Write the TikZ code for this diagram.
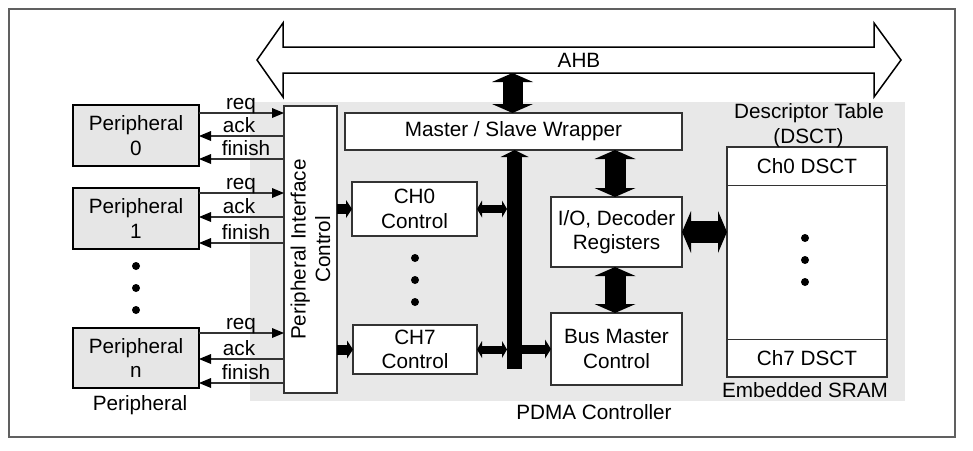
\documentclass[tikz,border=0pt]{standalone}
\usepackage{fontspec}
\setmainfont{Liberation Sans}
\usetikzlibrary{arrows.meta}
\definecolor{bggray}{HTML}{E8E8E8}
\definecolor{pergray}{HTML}{E6E6E6}
\definecolor{framec}{HTML}{606060}
\definecolor{edgec}{HTML}{333333}
\newcommand\dfont{\fontsize{20.7pt}{24.5pt}\selectfont}
\tikzset{
  blk/.style={draw=edgec, line width=1.3pt, fill=white, inner sep=0pt, outer sep=0pt, align=center, font=\dfont},
  perbox/.style={draw=black, line width=2pt, fill=pergray, inner sep=0pt, outer sep=0pt, align=center, font=\dfont, minimum width=126pt},
  lab/.style={inner sep=0pt, font=\dfont, align=center},
  dotc/.style={circle, fill=black, inner sep=0pt, minimum size=8pt},
  sig/.style={draw=black!80, line width=1.1pt, arrows={-Triangle[width=10pt,length=12pt,line width=0pt,color=black]}},
  fatdbl/.style n args={3}{line width=#1, arrows={Triangle[width=#2,length=#3,line width=0pt]-Triangle[width=#2,length=#3,line width=0pt]}},
  fatone/.style n args={3}{line width=#1, arrows={-Triangle[width=#2,length=#3,line width=0pt]}}
}
\begin{document}
\begin{tikzpicture}[x=1pt,y=-1pt]
\useasboundingbox (0,0) rectangle (973,450);
% frame and background
\draw[framec, line width=1.2pt] (9,9) rectangle (955,437);
\fill[bggray] (250,102) rectangle (905,401);
% AHB bus
\draw[black, line width=1.5pt, fill=white, line join=miter]
  (257,60) -- (283,23) -- (283,47) -- (874,47) -- (874,23) -- (901,60)
  -- (874,97) -- (874,73) -- (283,73) -- (283,97) -- cycle;
\node[lab] (ahb) at (579,60) {AHB};
\coordinate (ahbs) at (512.5,73);
% peripherals
\node[perbox, minimum height=61pt] (p0) at (136,135.5) {Peripheral\\0};
\node[perbox, minimum height=61pt] (p1) at (136,218.5) {Peripheral\\1};
\node[perbox, minimum height=60pt] (pn) at (136,358) {Peripheral\\n};
\node[lab] (plab) at (140,405) {Peripheral};
\node[dotc] (pd1) at (136,266) {};
\node[dotc] (pd2) at (136,288) {};
\node[dotc] (pd3) at (136,310) {};
% peripheral interface control
\node[blk, minimum width=53pt, minimum height=287pt] (pic) at (310.5,249.5) {};
\node[lab, rotate=90] (pict) at (pic.center) {Peripheral Interface\\Control};
% signals
\draw[sig] (p0.east |- 0,113) -- (pic.west |- 0,113);
\draw[sig] (pic.west |- 0,136) -- (p0.east |- 0,136);
\draw[sig] (pic.west |- 0,159) -- (p0.east |- 0,159);
\draw[sig] (p1.east |- 0,193) -- (pic.west |- 0,193);
\draw[sig] (pic.west |- 0,217) -- (p1.east |- 0,217);
\draw[sig] (pic.west |- 0,243) -- (p1.east |- 0,243);
\draw[sig] (pn.east |- 0,333) -- (pic.west |- 0,333);
\draw[sig] (pic.west |- 0,359) -- (pn.east |- 0,359);
\draw[sig] (pic.west |- 0,383) -- (pn.east |- 0,383);
\node[lab, anchor=base] (r0) at (241,109) {req};
\node[lab, anchor=base] (a0) at (239,132) {ack};
\node[lab, anchor=base] (f0) at (246,155) {finish};
\node[lab, anchor=base] (r1) at (241,189) {req};
\node[lab, anchor=base] (a1) at (239,213) {ack};
\node[lab, anchor=base] (f1) at (246,239) {finish};
\node[lab, anchor=base] (rn) at (241,329) {req};
\node[lab, anchor=base] (an) at (239,355) {ack};
\node[lab, anchor=base] (fn) at (246,379) {finish};
% controller blocks
\node[blk, minimum width=337pt, minimum height=37pt] (msw) at (513.5,131.5) {Master / Slave Wrapper};
\node[blk, minimum width=125pt, minimum height=54pt] (ch0) at (414.5,209) {CH0\\Control};
\node[blk, minimum width=124pt, minimum height=49pt] (ch7) at (415,349.5) {CH7\\Control};
\node[dotc] (cd1) at (415,258) {};
\node[dotc] (cd2) at (415,280) {};
\node[dotc] (cd3) at (415,302) {};
\node[blk, minimum width=131pt, minimum height=70pt] (io) at (616.5,232) {I/O, Decoder\\Registers};
\node[blk, minimum width=131pt, minimum height=72pt] (bmc) at (616.5,349) {Bus Master\\Control};
\node[lab] (pdma) at (594,412) {PDMA Controller};
% internal bus
\node[fill=black, inner sep=0pt, outer sep=0pt, minimum width=15pt, minimum height=211pt] (bus) at (514.5,263.5) {};
\draw[fatone={15pt}{28pt}{7pt}] (bus.center) -- (bus.center |- msw.south);
% SRAM
\node[blk, minimum width=160pt, minimum height=230pt] (sram) at (807,262) {};
\draw[edgec, line width=1pt] (sram.west |- 0,185) -- (sram.east |- 0,185);
\draw[edgec, line width=1pt] (sram.west |- 0,339) -- (sram.east |- 0,339);
\node[lab] (c0d) at (807,166) {Ch0 DSCT};
\node[lab] (c7d) at (807,358) {Ch7 DSCT};
\node[dotc] (sd1) at (805,238) {};
\node[dotc] (sd2) at (805,260) {};
\node[dotc] (sd3) at (805,282) {};
\node[lab] (dt1) at (809,113) {Descriptor Table};
\node[lab] (dt2) at (808.5,138) {(DSCT)};
\node[lab] (esr) at (805,390) {Embedded SRAM};
% fat arrows
\coordinate (xio) at (615,0);
\draw[fatdbl={20pt}{41pt}{9pt}] (ahbs) -- (ahbs |- msw.north);
\draw[fatdbl={21pt}{41pt}{9pt}] (msw.south -| xio) -- (io.north -| xio);
\draw[fatdbl={21pt}{41pt}{9pt}] (io.south -| xio) -- (bmc.north -| xio);
\draw[fatdbl={22pt}{42pt}{9pt}] (io.east) -- (io.east -| sram.west);
\draw[fatone={10pt}{18pt}{6pt}] (ch0.west -| pic.east) -- (ch0.west);
\draw[fatone={10pt}{18pt}{6pt}] (ch7.west -| pic.east) -- (ch7.west);
\draw[fatdbl={8pt}{17pt}{5pt}] (ch0.east) -- (ch0.east -| bus.west);
\draw[fatdbl={8pt}{17pt}{5pt}] (ch7.east) -- (ch7.east -| bus.west);
\draw[fatone={9pt}{19pt}{6pt}] (bmc.west -| bus.east) -- (bmc.west);
\end{tikzpicture}
\end{document}
